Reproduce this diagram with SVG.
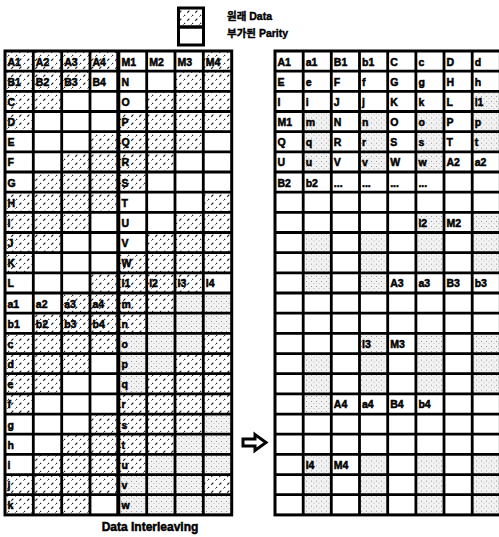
<svg xmlns="http://www.w3.org/2000/svg" xmlns:xlink="http://www.w3.org/1999/xlink" width="499" height="537" viewBox="0 0 499 537">
<style>
.t{font-family:"Liberation Sans",Arial,sans-serif;font-weight:bold;font-size:10.5px;fill:#000;stroke:#000;stroke-width:0.5}
.lg{font-family:"Liberation Sans","Noto Sans CJK KR",sans-serif;font-weight:bold;font-size:10.5px;fill:#000;stroke:#000;stroke-width:0.4}
.cap{font-family:"Liberation Sans",Arial,sans-serif;font-weight:bold;font-size:12px;fill:#000;stroke:#000;stroke-width:0.5}
.h{fill:url(#hatch)}
.g{fill:url(#stip)}
.grid{fill:none;stroke:#000;stroke-width:2.8}
.bd{fill:none;stroke:#000;stroke-width:3}
</style>
<defs>
<pattern id="hatch" patternUnits="userSpaceOnUse" width="8" height="8">
<rect width="8" height="8" fill="#fff"/>
<path d="M-1,9 L9,-1" stroke="#222" stroke-width="1.1" stroke-dasharray="3 3"/>
</pattern>
<pattern id="stip" patternUnits="userSpaceOnUse" width="5" height="5">
<rect width="5" height="5" fill="#f2f2f2"/>
<rect x="1" y="1" width="1" height="1" fill="#999"/>
<rect x="3.5" y="3" width="1" height="1" fill="#bbb"/>
</pattern>
<g id="g2468">
<rect x="303.2" y="0" width="28.2" height="20.2" class="g"/>
<rect x="359.5" y="0" width="28.2" height="20.2" class="g"/>
<rect x="415.9" y="0" width="28.2" height="20.2" class="g"/>
<rect x="472.2" y="0" width="28.2" height="20.2" class="g"/>
</g>
</defs>
<rect width="499" height="537" fill="#fff"/>

<g id="legend">
<rect x="178.5" y="8" width="25" height="19" class="h"/>
<rect x="178.5" y="8" width="25" height="19" class="bd" stroke-width="2.5"/>
<rect x="178.5" y="27" width="25" height="18" class="bd" stroke-width="2.5"/>
<text class="lg" x="227" y="20">원래 Data</text>
<text class="lg" x="227" y="37">부가된 Parity</text>
</g>

<g id="left-grid">
<g id="left-fills">
<rect x="5" y="51" width="113.3" height="20.2" class="h"/><rect x="203.3" y="51" width="28.4" height="20.2" class="h"/>
<rect x="5" y="71.2" width="85" height="20.2" class="h"/><rect x="175" y="71.2" width="56.7" height="20.2" class="h"/>
<rect x="5" y="91.3" width="56.7" height="20.2" class="h"/><rect x="146.7" y="91.3" width="85" height="20.2" class="h"/>
<rect x="5" y="111.5" width="28.3" height="20.2" class="h"/><rect x="118.3" y="111.5" width="113.4" height="20.2" class="h"/>
<rect x="90" y="131.7" width="113.3" height="20.2" class="h"/>
<rect x="61.7" y="151.9" width="113.3" height="20.2" class="h"/>
<rect x="33.3" y="172" width="113.4" height="20.2" class="h"/>
<rect x="5" y="192.2" width="113.3" height="20.2" class="h"/><rect x="203.3" y="192.2" width="28.4" height="20.2" class="h"/>
<rect x="5" y="212.4" width="85" height="20.2" class="h"/><rect x="175" y="212.4" width="56.7" height="20.2" class="h"/>
<rect x="5" y="232.5" width="56.7" height="20.2" class="h"/><rect x="146.7" y="232.5" width="85" height="20.2" class="h"/>
<rect x="5" y="252.7" width="28.3" height="20.2" class="h"/><rect x="118.3" y="252.7" width="113.4" height="20.2" class="h"/>
<rect x="90" y="272.9" width="113.3" height="20.2" class="h"/>
<rect x="61.7" y="293" width="113.3" height="20.2" class="h"/><rect x="175" y="293" width="56.7" height="20.2" class="g"/>
<rect x="33.3" y="313.2" width="113.4" height="20.2" class="h"/><rect x="146.7" y="313.2" width="85" height="20.2" class="g"/>
<rect x="5" y="333.4" width="113.3" height="20.2" class="h"/><rect x="203.3" y="333.4" width="28.4" height="20.2" class="h"/><rect x="118.3" y="333.4" width="85" height="20.2" class="g"/>
<rect x="5" y="353.6" width="85" height="20.2" class="h"/><rect x="175" y="353.6" width="56.7" height="20.2" class="h"/><rect x="118.3" y="353.6" width="56.7" height="20.2" class="g"/>
<rect x="5" y="373.7" width="56.7" height="20.2" class="h"/><rect x="146.7" y="373.7" width="85" height="20.2" class="h"/><rect x="118.3" y="373.7" width="28.4" height="20.2" class="g"/>
<rect x="5" y="393.9" width="28.3" height="20.2" class="h"/><rect x="118.3" y="393.9" width="113.4" height="20.2" class="h"/>
<rect x="90" y="414.1" width="113.3" height="20.2" class="h"/><rect x="203.3" y="414.1" width="28.4" height="20.2" class="g"/>
<rect x="61.7" y="434.2" width="113.3" height="20.2" class="h"/><rect x="175" y="434.2" width="56.7" height="20.2" class="g"/>
<rect x="33.3" y="454.4" width="113.4" height="20.2" class="h"/><rect x="146.7" y="454.4" width="85" height="20.2" class="g"/>
<rect x="5" y="474.6" width="113.3" height="20.2" class="h"/><rect x="203.3" y="474.6" width="28.4" height="20.2" class="h"/><rect x="118.3" y="474.6" width="85" height="20.2" class="g"/>
<rect x="5" y="494.7" width="85" height="20.2" class="h"/><rect x="118.3" y="494.7" width="113.4" height="20.2" class="g"/>
</g>
<path class="grid" d="M33.3,51V514.9M61.7,51V514.9M90,51V514.9M146.7,51V514.9M175,51V514.9M203.3,51V514.9
M5,71.2H231.7M5,91.3H231.7M5,111.5H231.7M5,131.7H231.7M5,151.9H231.7M5,172H231.7M5,192.2H231.7M5,212.4H231.7M5,232.5H231.7M5,252.7H231.7M5,272.9H231.7M5,293H231.7M5,313.2H231.7M5,333.4H231.7M5,353.6H231.7M5,373.7H231.7M5,393.9H231.7M5,414.1H231.7M5,434.2H231.7M5,454.4H231.7M5,474.6H231.7M5,494.7H231.7"/>
<path d="M118.3,51V514.9" stroke="#000" stroke-width="4"/>
<rect x="5" y="51" width="226.7" height="463.9" class="bd"/>
<g id="left-labels">
<text class="t" y="65.5"><tspan x="7.5">A1</tspan><tspan x="35.8">A2</tspan><tspan x="64.2">A3</tspan><tspan x="92.5">A4</tspan><tspan x="121.5">M1</tspan><tspan x="149.2">M2</tspan><tspan x="177.5">M3</tspan><tspan x="205.8">M4</tspan></text>
<text class="t" y="85.7"><tspan x="7.5">B1</tspan><tspan x="35.8">B2</tspan><tspan x="64.2">B3</tspan><tspan x="92.5">B4</tspan><tspan x="121.5">N</tspan></text>
<text class="t" y="105.8"><tspan x="7.5">C</tspan><tspan x="121.5">O</tspan></text>
<text class="t" y="126"><tspan x="7.5">D</tspan><tspan x="121.5">P</tspan></text>
<text class="t" y="146.2"><tspan x="7.5">E</tspan><tspan x="121.5">Q</tspan></text>
<text class="t" y="166.4"><tspan x="7.5">F</tspan><tspan x="121.5">R</tspan></text>
<text class="t" y="186.5"><tspan x="7.5">G</tspan><tspan x="121.5">S</tspan></text>
<text class="t" y="206.7"><tspan x="7.5">H</tspan><tspan x="121.5">T</tspan></text>
<text class="t" y="226.9"><tspan x="7.5">I</tspan><tspan x="121.5">U</tspan></text>
<text class="t" y="247"><tspan x="7.5">J</tspan><tspan x="121.5">V</tspan></text>
<text class="t" y="267.2"><tspan x="7.5">K</tspan><tspan x="121.5">W</tspan></text>
<text class="t" y="287.4"><tspan x="7.5">L</tspan><tspan x="121.5">l1</tspan><tspan x="149.2">l2</tspan><tspan x="177.5">l3</tspan><tspan x="205.8">l4</tspan></text>
<text class="t" y="307.5"><tspan x="7.5">a1</tspan><tspan x="35.8">a2</tspan><tspan x="64.2">a3</tspan><tspan x="92.5">a4</tspan><tspan x="121.5">m</tspan></text>
<text class="t" y="327.7"><tspan x="7.5">b1</tspan><tspan x="35.8">b2</tspan><tspan x="64.2">b3</tspan><tspan x="92.5">b4</tspan><tspan x="121.5">n</tspan></text>
<text class="t" y="347.9"><tspan x="7.5">c</tspan><tspan x="121.5">o</tspan></text>
<text class="t" y="368.1"><tspan x="7.5">d</tspan><tspan x="121.5">p</tspan></text>
<text class="t" y="388.2"><tspan x="7.5">e</tspan><tspan x="121.5">q</tspan></text>
<text class="t" y="408.4"><tspan x="7.5">f</tspan><tspan x="121.5">r</tspan></text>
<text class="t" y="428.6"><tspan x="7.5">g</tspan><tspan x="121.5">s</tspan></text>
<text class="t" y="448.7"><tspan x="7.5">h</tspan><tspan x="121.5">t</tspan></text>
<text class="t" y="468.9"><tspan x="7.5">i</tspan><tspan x="121.5">u</tspan></text>
<text class="t" y="489.1"><tspan x="7.5">j</tspan><tspan x="121.5">v</tspan></text>
<text class="t" y="509.2"><tspan x="7.5">k</tspan><tspan x="121.5">w</tspan></text>
</g>
</g>

<g id="arrow">
<path d="M243,439H255V434.5L266,442.5L255,450.5V446H243Z" fill="#fff" stroke="#000" stroke-width="3" stroke-linejoin="miter"/>
</g>

<g id="right-grid">
<g id="right-fills">
<rect x="472.2" y="91.3" width="28.2" height="20.2" class="g"/>
<use xlink:href="#g2468" y="111.5"/>
<use xlink:href="#g2468" y="131.7"/>
<rect x="303.2" y="151.9" width="28.2" height="20.2" class="g"/><rect x="359.5" y="151.9" width="28.2" height="20.2" class="g"/><rect x="415.9" y="151.9" width="28.2" height="20.2" class="g"/>
<rect x="415.9" y="212.4" width="28.2" height="20.2" class="g"/><rect x="472.2" y="212.4" width="28.2" height="20.2" class="g"/>
<use xlink:href="#g2468" y="232.5"/>
<use xlink:href="#g2468" y="252.7"/>
<rect x="303.2" y="272.9" width="28.2" height="20.2" class="g"/><rect x="359.5" y="272.9" width="28.2" height="20.2" class="g"/>
<rect x="359.5" y="333.4" width="28.2" height="20.2" class="g"/><rect x="415.9" y="333.4" width="28.2" height="20.2" class="g"/><rect x="472.2" y="333.4" width="28.2" height="20.2" class="g"/>
<use xlink:href="#g2468" y="353.6"/>
<use xlink:href="#g2468" y="373.7"/>
<rect x="303.2" y="393.9" width="28.2" height="20.2" class="g"/>
<use xlink:href="#g2468" y="454.4"/>
<use xlink:href="#g2468" y="474.6"/>
<use xlink:href="#g2468" y="494.7"/>
</g>
<path class="grid" d="M303.2,51V514.9M331.3,51V514.9M359.5,51V514.9M387.7,51V514.9M415.9,51V514.9M444,51V514.9M472.2,51V514.9
M275,71.2H500.4M275,91.3H500.4M275,111.5H500.4M275,131.7H500.4M275,151.9H500.4M275,172H500.4M275,192.2H500.4M275,212.4H500.4M275,232.5H500.4M275,252.7H500.4M275,272.9H500.4M275,293H500.4M275,313.2H500.4M275,333.4H500.4M275,353.6H500.4M275,373.7H500.4M275,393.9H500.4M275,414.1H500.4M275,434.2H500.4M275,454.4H500.4M275,474.6H500.4M275,494.7H500.4"/>
<rect x="275" y="51" width="225.4" height="463.9" class="bd"/>
<g id="right-labels">
<text class="t" y="65.5"><tspan x="277.5">A1</tspan><tspan x="305.7">a1</tspan><tspan x="333.8">B1</tspan><tspan x="362">b1</tspan><tspan x="390.2">C</tspan><tspan x="418.4">c</tspan><tspan x="446.5">D</tspan><tspan x="474.7">d</tspan></text>
<text class="t" y="85.7"><tspan x="277.5">E</tspan><tspan x="305.7">e</tspan><tspan x="333.8">F</tspan><tspan x="362">f</tspan><tspan x="390.2">G</tspan><tspan x="418.4">g</tspan><tspan x="446.5">H</tspan><tspan x="474.7">h</tspan></text>
<text class="t" y="105.8"><tspan x="277.5">I</tspan><tspan x="305.7">i</tspan><tspan x="333.8">J</tspan><tspan x="362">j</tspan><tspan x="390.2">K</tspan><tspan x="418.4">k</tspan><tspan x="446.5">L</tspan><tspan x="474.7">l1</tspan></text>
<text class="t" y="126"><tspan x="277.5">M1</tspan><tspan x="305.7">m</tspan><tspan x="333.8">N</tspan><tspan x="362">n</tspan><tspan x="390.2">O</tspan><tspan x="418.4">o</tspan><tspan x="446.5">P</tspan><tspan x="474.7">p</tspan></text>
<text class="t" y="146.2"><tspan x="277.5">Q</tspan><tspan x="305.7">q</tspan><tspan x="333.8">R</tspan><tspan x="362">r</tspan><tspan x="390.2">S</tspan><tspan x="418.4">s</tspan><tspan x="446.5">T</tspan><tspan x="474.7">t</tspan></text>
<text class="t" y="166.4"><tspan x="277.5">U</tspan><tspan x="305.7">u</tspan><tspan x="333.8">V</tspan><tspan x="362">v</tspan><tspan x="390.2">W</tspan><tspan x="418.4">w</tspan><tspan x="446.5">A2</tspan><tspan x="474.7">a2</tspan></text>
<text class="t" y="186.5"><tspan x="277.5">B2</tspan><tspan x="305.7">b2</tspan><tspan x="333.8">...</tspan><tspan x="362">...</tspan><tspan x="390.2">...</tspan><tspan x="418.4">...</tspan></text>
<text class="t" y="226.9"><tspan x="418.4">l2</tspan><tspan x="446.5">M2</tspan></text>
<text class="t" y="287.4"><tspan x="390.2">A3</tspan><tspan x="418.4">a3</tspan><tspan x="446.5">B3</tspan><tspan x="474.7">b3</tspan></text>
<text class="t" y="347.9"><tspan x="362">l3</tspan><tspan x="390.2">M3</tspan></text>
<text class="t" y="408.4"><tspan x="333.8">A4</tspan><tspan x="362">a4</tspan><tspan x="390.2">B4</tspan><tspan x="418.4">b4</tspan></text>
<text class="t" y="468.9"><tspan x="305.7">l4</tspan><tspan x="333.8">M4</tspan></text>
</g>
</g>

<text class="cap" x="150" y="531" text-anchor="middle">Data Interleaving</text>
</svg>
